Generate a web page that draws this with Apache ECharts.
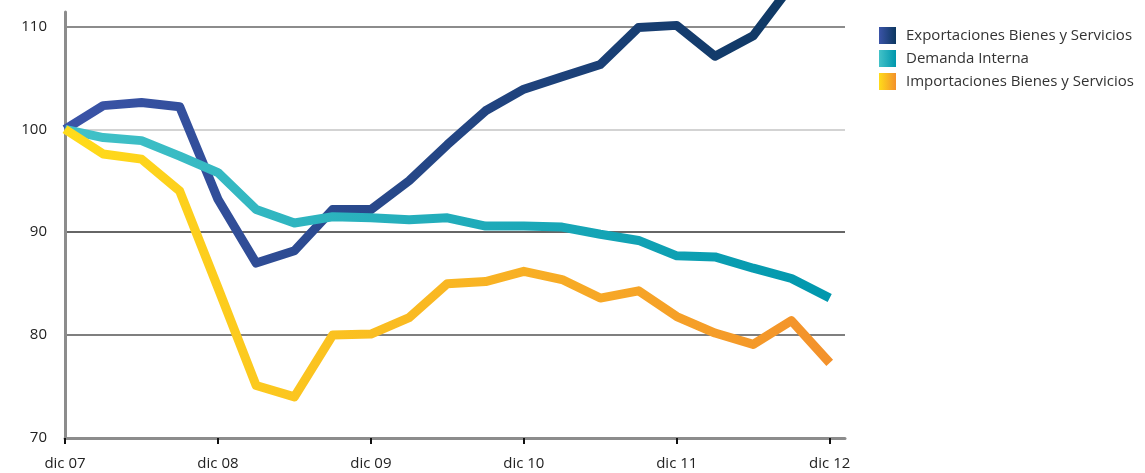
<!DOCTYPE html>
<html>
<head>
<meta charset="utf-8">
<script src="https://cdn.jsdelivr.net/npm/echarts@6/dist/echarts.min.js"></script>
<style>
  html, body { margin: 0; padding: 0; background: #fff; }
  #main { width: 1145px; height: 473px; }
</style>
</head>
<body>
<div id="main"></div>
<script>
// quarterly index, dic 07 = 100
const tickLabels = ['dic 07', 'dic 08', 'dic 09', 'dic 10', 'dic 11', 'dic 12'];
const seriesNames = ['Exportaciones Bienes y Servicios', 'Demanda Interna', 'Importaciones Bienes y Servicios'];
const exportaciones = [100, 102.3, 102.6, 102.2, 93.2, 87.0, 88.2, 92.2, 92.2, 95.0, 98.5, 101.8, 103.9, 105.1, 106.3, 109.9, 110.1, 107.1, 109.1, 114.0, 116.5];
const demanda = [100, 99.2, 98.9, 97.4, 95.8, 92.2, 90.9, 91.5, 91.4, 91.2, 91.4, 90.6, 90.6, 90.5, 89.8, 89.2, 87.7, 87.6, 86.5, 85.5, 83.6];
const importaciones = [100, 97.6, 97.1, 94.0, 84.6, 75.1, 74.0, 80.0, 80.1, 81.7, 85.0, 85.2, 86.2, 85.4, 83.6, 84.3, 81.8, 80.2, 79.1, 81.4, 77.3];
const yTicks = [70, 80, 90, 100, 110];

const chart = echarts.init(document.getElementById('main'));

function grad(a, b) {
    return new echarts.graphic.LinearGradient(0, 0, 1, 0, [
        { offset: 0, color: a },
        { offset: 1, color: b }
    ]);
}

const colors = [
    grad('#3b54a8', '#0c3760'),
    grad('#43c2c8', '#0097ad'),
    grad('#ffdc1a', '#f3912b')
];

function toPairs(arr) {
    return arr.map((v, i) => [i, v]);
}

const tickPos = tickLabels.map((t, i) => i * 4);

const option = {
    animation: false,
    textStyle: { fontFamily: 'Open Sans' },
    grid: { left: 65, right: 300, top: 12, bottom: 35 },
    legend: {
        orient: 'vertical',
        left: 874,
        top: 22,
        itemWidth: 17,
        itemHeight: 17,
        itemGap: 6,
        icon: 'rect',
        textStyle: { fontSize: 15, color: '#333', fontFamily: 'Open Sans', padding: [0, 0, 0, 5] },
        data: seriesNames
    },
    xAxis: {
        type: 'value',
        min: 0,
        max: 20.4,
        interval: 4,
        splitLine: { show: false },
        axisLine: { lineStyle: { color: '#8c8c8c', width: 3 } },
        axisTick: { show: true, customValues: tickPos, length: 6, lineStyle: { color: '#111', width: 2 } },
        axisLabel: {
            customValues: tickPos,
            color: '#222',
            fontSize: 15,
            margin: 18,
            formatter: v => tickLabels[Math.round(v / 4)]
        }
    },
    yAxis: {
        type: 'value',
        min: 70,
        max: 111.4,
        interval: 10,
        axisLine: { show: true, lineStyle: { color: '#8c8c8c', width: 3 } },
        axisTick: { show: false },
        axisLabel: { customValues: yTicks, color: '#222', fontSize: 15, margin: 18 },
        splitLine: {
            lineStyle: {
                color: ['#8c8c8c', '#555', '#333', '#c4c4c4', '#666', 'rgba(0,0,0,0)'],
                width: 1.5
            }
        }
    },
    series: [
        { name: seriesNames[0], data: toPairs(exportaciones) },
        { name: seriesNames[1], data: toPairs(demanda) },
        { name: seriesNames[2], data: toPairs(importaciones) }
    ].map((s, i) => ({
        name: s.name,
        type: 'line',
        data: s.data,
        symbol: 'none',
        clip: false,
        color: colors[i],
        itemStyle: { color: colors[i] },
        lineStyle: { width: 9, color: colors[i], join: 'round' }
    }))
};

chart.setOption(option);
</script>
</body>
</html>
